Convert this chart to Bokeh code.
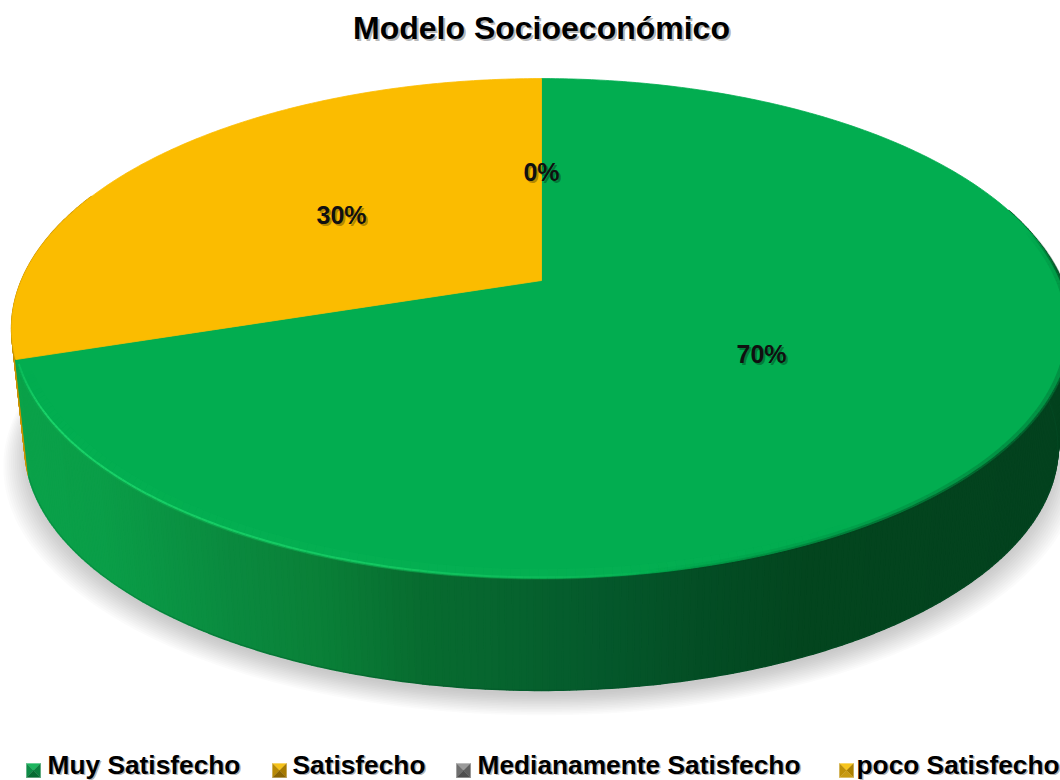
import numpy as np
from bokeh.plotting import figure
from bokeh.models import Range1d
from bokeh.core.properties import value
from bokeh.embed import file_html
from bokeh.resources import INLINE

# ---- data ----
title = "Modelo Socioeconómico"
categories = ["Muy Satisfecho", "Satisfecho", "Medianamente Satisfecho", "poco Satisfecho"]
values = [70, 0, 0, 30]
slice_colors = ["#02AD50", "#FBBC00", "#7F7F7F", "#FBBC00"]
wall_colors = ["#0A8F44", "#C99300", "#666666", "#C99300"]
pct_labels = ["70%", "0%", "30%"]
pct_values = [70, 0, 30]
pct_x = [761, 541, 341]
pct_y = [367, 185, 228]
legend_key_x = [33, 279, 463, 846]
legend_text_x = [47, 292, 477, 856]

# ---- projection of the tilted disc ----
CX, CY = 541.0, 280.0
A, B, K = 520.0, 240.7, 0.192
DEPTH, SHRINK = 119.4, 0.975


def rim(theta, scale=1.0, drop=0.0):
    """theta: radians clockwise from 12 o'clock."""
    u, v = np.sin(theta), np.cos(theta)
    w = 1 + K * v
    return CX + scale * A * u / w, CY + drop - scale * B * v / w


def hexmix(stops, x):
    xs = [s[0] for s in stops]
    rgb = [np.interp(x, xs, [int(s[1][i:i + 2], 16) for s in stops]) for i in (1, 3, 5)]
    return "#%02x%02x%02x" % tuple(int(c) for c in rgb)


def rim_stroke(deg_from, deg_to, scale, colour, alpha_deg, alpha_val, width, drop=0.0):
    th = np.deg2rad(np.linspace(deg_from, deg_to, 120))
    xs, ys, al = [], [], []
    for a, b in zip(th[:-1], th[1:]):
        xa, ya = rim(a, scale, drop)
        xb, yb = rim(b, scale, drop)
        xs.append([xa, xb])
        ys.append([ya, yb])
        al.append(float(np.interp(np.rad2deg(a), alpha_deg, alpha_val)))
    p.multi_line(xs, ys, line_color=colour, line_alpha=al, line_width=width)


p = figure(width=1060, height=780, output_backend="svg", toolbar_location=None,
           x_range=Range1d(0, 1060), y_range=Range1d(780, 0), min_border=0)
p.axis.visible = False
p.grid.visible = False
p.outline_line_color = None
p.background_fill_color = "white"

# soft drop shadow
full = np.linspace(0, 2 * np.pi, 240)
for i in range(14):
    sx, sy = rim(full, SHRINK + 0.002 * i - 0.006, DEPTH + 6)
    sx = CX + (sx - CX) * (1 + 0.0016 * i)
    sy = sy + 1.0 * i
    p.patch(sx, sy, fill_color="#5a5a5a", fill_alpha=0.022, line_color=None)

# wedge boundaries, clockwise from the top
fractions = np.cumsum([0] + values) / sum(values)
angles = fractions * 2 * np.pi

# side wall, only the part that faces the viewer
wall_stops = [(20, "#0BA24A"), (100, "#0A9E48"), (230, "#0A8A3F"), (320, "#0A8038"), (420, "#086C30"),
              (500, "#07652F"), (600, "#05592C"), (700, "#044E25"), (800, "#03461F"), (1060, "#03421E")]
visible_from, visible_to = np.deg2rad(72), np.deg2rad(292)
quads = []
for idx, val in enumerate(values):
    if val == 0:
        continue
    n = max(4, int(val * 4))
    th = np.linspace(max(angles[idx], visible_from), min(angles[idx + 1], visible_to), n + 1)
    for a, b in zip(th[:-1], th[1:]):
        xa, ya = rim(a)
        xb, yb = rim(b)
        xc, yc = rim(b, SHRINK, DEPTH)
        xd, yd = rim(a, SHRINK, DEPTH)
        colour = hexmix(wall_stops, (xa + xb) / 2) if idx == 0 else wall_colors[idx]
        quads.append((np.cos((a + b) / 2), [xa, xb, xc, xd], [ya, yb, yc, yd], colour))
quads.sort(key=lambda q: -q[0])
p.patches([q[1] for q in quads], [q[2] for q in quads], fill_color=[q[3] for q in quads],
          line_color=[q[3] for q in quads], line_width=1.6)

# darker foot of the wall
rim_stroke(252, 72, SHRINK - 0.0005, "#04502A", [72, 180, 252], [0.4, 0.45, 0.2], 1.0, DEPTH)

# top surface
for idx, val in enumerate(values):
    if val == 0:
        continue
    th = np.linspace(angles[idx], angles[idx + 1], int(val * 6) + 2)
    x, y = rim(th)
    p.patch(np.r_[CX, x], np.r_[CY, y], fill_color=slice_colors[idx],
            line_color=slice_colors[idx], line_width=0.8)

# bevel along the front of the rim
rim_stroke(250, 150, 0.984, "#14BE5C", [150, 180, 230, 250], [0.0, 0.16, 0.10, 0.0], 9)
rim_stroke(251, 165, 1.0, "#0EA44C", [165, 195, 240, 251], [0.0, 0.8, 0.9, 0.4], 2.4)
rim_stroke(251, 165, 0.9965, "#1AD46A", [165, 195, 240, 251], [0.0, 0.7, 1.0, 0.35], 2.0)
rim_stroke(172, 78, 1.0, "#03451F", [78, 88, 130, 172], [0.0, 0.7, 0.7, 0.0], 3)
rim_stroke(172, 78, 0.993, "#03451F", [78, 95, 130, 172], [0.0, 0.25, 0.25, 0.0], 4)

font = value("Liberation Sans")
# labels
p.text(np.array(pct_x) + 2, np.array(pct_y) + 2, text=pct_labels, text_font=font, text_font_style="bold",
       text_font_size="25px", text_align="center", text_baseline="bottom",
       text_color="#000000", text_alpha=0.3)
p.text(pct_x, pct_y, text=pct_labels, text_font=font, text_font_style="bold",
       text_font_size="25px", text_align="center", text_baseline="bottom", text_color="#101010")

# title
p.text([543], [47], text=[title], text_font=font, text_font_style="bold", text_font_size="32px",
       text_align="center", text_baseline="bottom", text_color="#000000", text_alpha=0.3)
p.text([541], [45], text=[title], text_font=font, text_font_style="bold", text_font_size="32px",
       text_align="center", text_baseline="bottom", text_color="#000000")

# legend
key_tones = [("#1DB65F", "#0E8C47", "#0B7F3E", "#066B32"),
             ("#F5C21A", "#B88A05", "#A67A00", "#8A6500"),
             ("#9A9A9A", "#6E6E6E", "#5E5E5E", "#4E4E4E"),
             ("#F7C51E", "#BE9008", "#AA7F00", "#C79A12")]
h = 7.0
ky = 770.0
for kx, tones in zip(legend_key_x, key_tones):
    corners = [(kx - h, ky - h), (kx + h, ky - h), (kx + h, ky + h), (kx - h, ky + h)]
    order = [(0, 1, tones[0]), (3, 0, tones[1]), (1, 2, tones[2]), (2, 3, tones[3])]
    for a, b, c in order:
        p.patch([corners[a][0], corners[b][0], kx], [corners[a][1], corners[b][1], ky],
                fill_color=c, line_color=c, line_width=0.3)
p.text(np.array(legend_text_x) + 1.5, [780] * 4, text=categories, text_font=font, text_font_style="bold",
       text_font_size="26.3px", text_baseline="bottom", text_color="#000000", text_alpha=0.3)
p.text(legend_text_x, [779] * 4, text=categories, text_font=font, text_font_style="bold",
       text_font_size="26.3px", text_baseline="bottom", text_color="#000000")

open("out.html", "w").write(file_html(p, INLINE))
